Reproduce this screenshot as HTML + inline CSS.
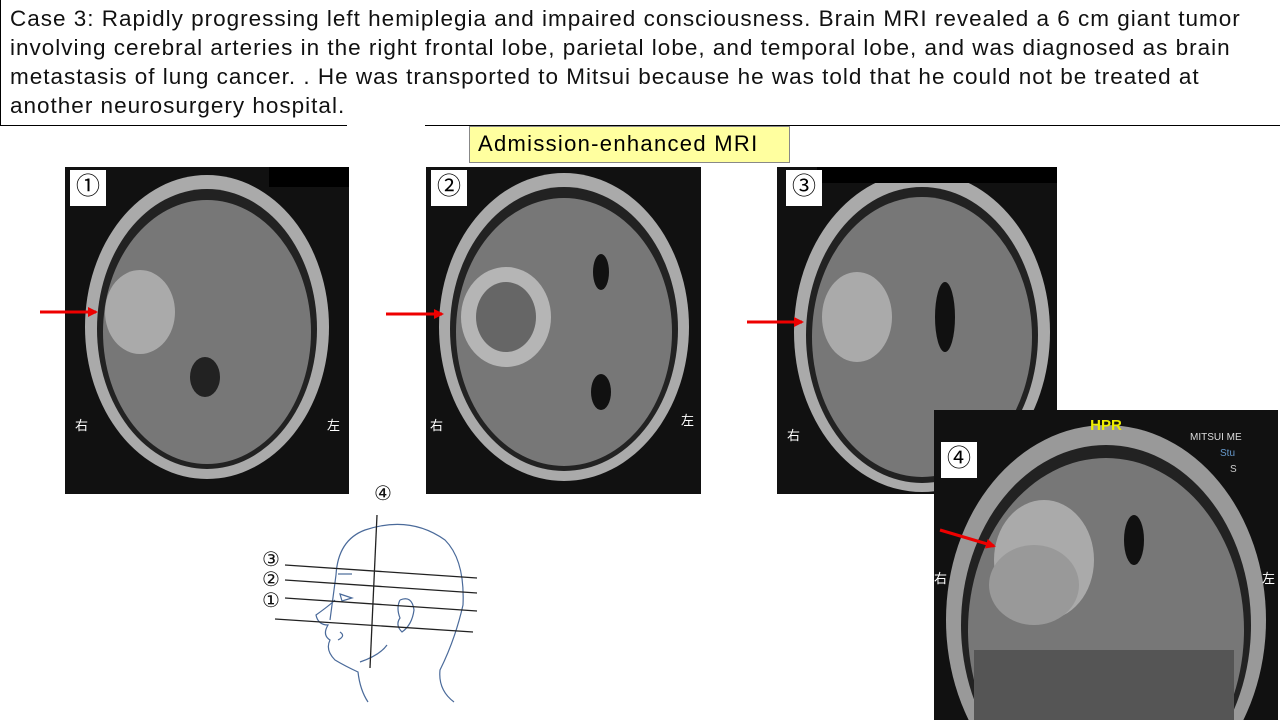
<!DOCTYPE html>
<html style="overflow:hidden"><head><meta charset="utf-8"><style>
html,body{margin:0;width:1280px;height:720px;overflow:hidden}
body{background:#fff;position:relative;font-family:"Liberation Sans","Noto Sans CJK JP",sans-serif}
svg{display:block}
.t{position:absolute;left:0;top:0;width:1280px;height:126px;box-sizing:border-box;border:1px solid #000;border-top:none;border-right:none;}
.tx{position:absolute;left:10px;top:4px;font-size:22.5px;line-height:29px;color:#111;white-space:nowrap;letter-spacing:1.0px}
.img{position:absolute;background:#111;overflow:hidden}
.num{position:absolute;background:#fff;font-size:24px;text-align:center;line-height:34px;width:36px;height:36px}
.k{position:absolute;color:#fff;font-size:13px}
</style></head><body>
<div class="t"></div>
<div style="position:absolute;left:347px;top:120px;width:78px;height:10px;background:#fff"></div>
<div class="tx">Case 3: Rapidly progressing left hemiplegia and impaired consciousness. Brain MRI revealed a 6 cm giant tumor<br>involving cerebral arteries in the right frontal lobe, parietal lobe, and temporal lobe, and was diagnosed as brain<br>metastasis of lung cancer. . He was transported to Mitsui because he was told that he could not be treated at<br>another neurosurgery hospital.</div>
<div style="position:absolute;left:469px;top:126px;width:321px;height:37px;background:#ffff9f;border:1px solid #888;box-sizing:border-box;font-size:22px;line-height:34px;padding-left:8px;letter-spacing:1.3px;white-space:nowrap;overflow:hidden">Admission-enhanced MRI</div>

<div class="img" style="left:65px;top:167px;width:284px;height:327px">
<svg width="284" height="327"><ellipse cx="142" cy="160" rx="122" ry="152" fill="#aaa"/><ellipse cx="142" cy="162" rx="110" ry="140" fill="#222"/><ellipse cx="142" cy="165" rx="104" ry="132" fill="#777"/><ellipse cx="75" cy="145" rx="35" ry="42" fill="#aaa"/><ellipse cx="140" cy="210" rx="15" ry="20" fill="#222"/></svg>
<div class="k" style="left:10px;top:248px">右</div><div class="k" style="left:262px;top:248px">左</div>
<div style="position:absolute;left:204px;top:0;width:80px;height:20px;background:#000"></div></div>
<div class="num" style="left:70px;top:170px">①</div>

<div class="img" style="left:426px;top:167px;width:275px;height:327px">
<svg width="275" height="327"><ellipse cx="138" cy="160" rx="125" ry="154" fill="#aaa"/><ellipse cx="138" cy="162" rx="114" ry="142" fill="#222"/><ellipse cx="138" cy="165" rx="108" ry="134" fill="#777"/><ellipse cx="80" cy="150" rx="45" ry="50" fill="#b5b5b5"/><ellipse cx="80" cy="150" rx="30" ry="35" fill="#666"/><ellipse cx="175" cy="105" rx="8" ry="18" fill="#111"/><ellipse cx="175" cy="225" rx="10" ry="18" fill="#111"/></svg>
<div class="k" style="left:4px;top:248px">右</div><div class="k" style="left:255px;top:243px">左</div></div>
<div class="num" style="left:431px;top:170px">②</div>

<div class="img" style="left:777px;top:167px;width:280px;height:327px">
<svg width="280" height="327"><ellipse cx="145" cy="165" rx="128" ry="160" fill="#aaa"/><ellipse cx="145" cy="168" rx="116" ry="148" fill="#222"/><ellipse cx="145" cy="170" rx="110" ry="140" fill="#777"/><ellipse cx="80" cy="150" rx="35" ry="45" fill="#aaa"/><ellipse cx="168" cy="150" rx="10" ry="35" fill="#111"/></svg>
<div class="k" style="left:10px;top:258px">右</div>
<div style="position:absolute;left:40px;top:0;width:240px;height:16px;background:#000"></div></div>
<div class="num" style="left:786px;top:170px">③</div>

<div class="img" style="left:934px;top:410px;width:344px;height:310px">
<svg width="344" height="310"><ellipse cx="172" cy="210" rx="160" ry="195" fill="#999"/><ellipse cx="172" cy="215" rx="145" ry="180" fill="#222"/><ellipse cx="172" cy="220" rx="138" ry="172" fill="#777"/><ellipse cx="110" cy="150" rx="50" ry="60" fill="#aaa"/><ellipse cx="100" cy="175" rx="45" ry="40" fill="#999"/><rect x="40" y="240" width="260" height="70" fill="#555"/><ellipse cx="200" cy="130" rx="10" ry="25" fill="#111"/><text x="172" y="20" fill="#ee0" font-size="15" font-weight="bold" text-anchor="middle" font-family="Liberation Sans">HPR</text><text x="256" y="30" fill="#ddd" font-size="10" font-family="Liberation Sans">MITSUI ME</text><text x="286" y="46" fill="#69c" font-size="10" font-family="Liberation Sans">Stu</text><text x="296" y="62" fill="#ccc" font-size="10" font-family="Liberation Sans">S</text></svg>
<div class="k" style="left:0px;top:158px">右</div><div class="k" style="left:328px;top:158px">左</div></div>
<div class="num" style="left:941px;top:442px">④</div>

<svg style="position:absolute;left:0;top:0" width="1280" height="720">
<defs><marker id="a" markerUnits="userSpaceOnUse" markerWidth="10" markerHeight="10" refX="8" refY="5" orient="auto"><path d="M0,0 L10,5 L0,10z" fill="#e00"/></marker></defs>
<g stroke="#e00" stroke-width="3" marker-end="url(#a)">
<line x1="40" y1="312" x2="96" y2="312"/><line x1="386" y1="314" x2="442" y2="314"/><line x1="747" y1="322" x2="802" y2="322"/><line x1="940" y1="530" x2="994" y2="546"/></g>
<g fill="none" stroke="#4a6a9a" stroke-width="1.2">
<path d="M330,620 Q334,590 336,575 Q338,540 365,530 Q410,515 445,540 Q465,560 463,605 Q455,640 440,670 Q438,690 454,702"/>
<path d="M335,600 Q330,605 316,615 Q318,625 328,625 Q322,635 330,640 Q325,650 335,660 Q345,666 358,672 Q360,690 368,702"/>
<path d="M340,632 Q346,636 338,640"/>
<path d="M338,574 L352,574"/><path d="M340,594 L352,598 L342,601Z"/>
<path d="M400,600 Q412,595 414,610 Q412,625 402,632 Q395,625 400,618 Q396,608 400,600"/>
<path d="M360,662 Q380,655 387,645"/></g>
<g stroke="#222" stroke-width="1.3">
<line x1="377" y1="515" x2="370" y2="668"/>
<line x1="285" y1="565" x2="477" y2="578"/><line x1="285" y1="580" x2="477" y2="593"/><line x1="285" y1="598" x2="477" y2="611"/><line x1="275" y1="619" x2="473" y2="632"/></g>
<g font-size="20" fill="#111" font-family="Liberation Sans, DejaVu Sans, sans-serif">
<text x="374" y="500">④</text><text x="262" y="566">③</text><text x="262" y="586">②</text><text x="262" y="607">①</text></g>
</svg>
</body></html>
